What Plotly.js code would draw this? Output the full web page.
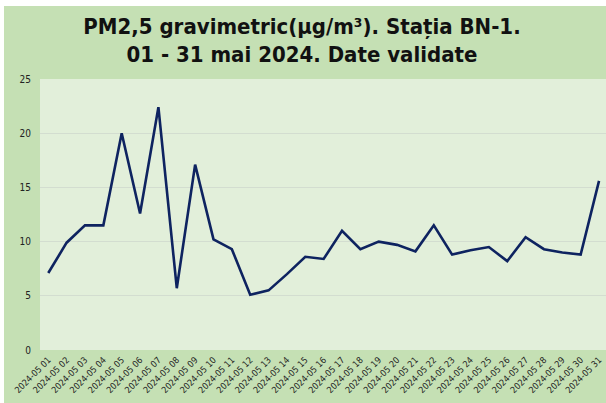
<!DOCTYPE html>
<html>
<head>
<meta charset="utf-8">
<script src="https://cdn.plot.ly/plotly-3.0.1.min.js"></script>
<style>
  html, body { margin: 0; padding: 0; background: #ffffff; width: 606px; height: 403px; overflow: hidden; }
  #chart { position: absolute; left: 4px; top: 6px; width: 602px; height: 397px; }
</style>
</head>
<body>
<div id="chart"></div>
<script>
const dates = [
  "2024-05 01","2024-05 02","2024-05 03","2024-05 04","2024-05 05","2024-05 06","2024-05 07","2024-05 08",
  "2024-05 09","2024-05 10","2024-05 11","2024-05 12","2024-05 13","2024-05 14","2024-05 15","2024-05 16",
  "2024-05 17","2024-05 18","2024-05 19","2024-05 20","2024-05 21","2024-05 22","2024-05 23","2024-05 24",
  "2024-05 25","2024-05 26","2024-05 27","2024-05 28","2024-05 29","2024-05 30","2024-05 31"
];
const pm25 = [
  7.1, 9.9, 11.5, 11.5, 20.0, 12.6, 22.4, 5.7,
  17.1, 10.2, 9.3, 5.1, 5.5, 7.0, 8.6, 8.4,
  11.0, 9.3, 10.0, 9.7, 9.1, 11.5, 8.8, 9.2,
  9.5, 8.2, 10.4, 9.3, 9.0, 8.8, 15.6
];
const yTicks = [0, 5, 10, 15, 20, 25];
const titleText = "PM2,5 gravimetric(µg/m³). Stația BN-1.<br>01 - 31 mai 2024. Date validate";

// position of each date on the category scale
const dayIndex = dates.map((d, i) => i);

const trace = {
  x: dayIndex,
  y: pm25,
  text: dates,
  type: "scatter",
  mode: "lines",
  line: { color: "#0e2360", width: 2.6 },
  hoverinfo: "text+y"
};

const layout = {
  width: 602,
  height: 397,
  paper_bgcolor: "#c5e0b4",
  plot_bgcolor: "#e2efda",
  margin: { l: 36, r: 0, t: 73, b: 53 },
  showlegend: false,
  title: {
    text: titleText,
    x: 0.495,
    xanchor: "center",
    y: 0.93,
    yanchor: "top",
    font: { family: "DejaVu Sans Condensed, DejaVu Sans", size: 22, color: "#111111", weight: "bold" }
  },
  xaxis: {
    type: "linear",
    range: [-0.45, 30.38],
    tickmode: "array",
    tickvals: dayIndex,
    ticktext: dates,
    tickangle: -45,
    tickfont: { family: "DejaVu Sans Condensed, DejaVu Sans", size: 9, color: "#222222" },
    showgrid: false,
    zeroline: false,
    showline: false,
    ticks: "",
    ticklabelstandoff: 2,
    fixedrange: true
  },
  yaxis: {
    range: [0, 25],
    tickvals: yTicks,
    ticktext: yTicks.map(String),
    tickfont: { family: "DejaVu Sans Condensed, DejaVu Sans", size: 10, color: "#222222" },
    showgrid: true,
    gridcolor: "#d3ddd0",
    gridwidth: 1,
    zeroline: false,
    showline: false,
    ticks: "",
    ticklabelstandoff: 8,
    fixedrange: true
  }
};

Plotly.newPlot("chart", [trace], layout, { displayModeBar: false, staticPlot: true });
</script>
</body>
</html>
